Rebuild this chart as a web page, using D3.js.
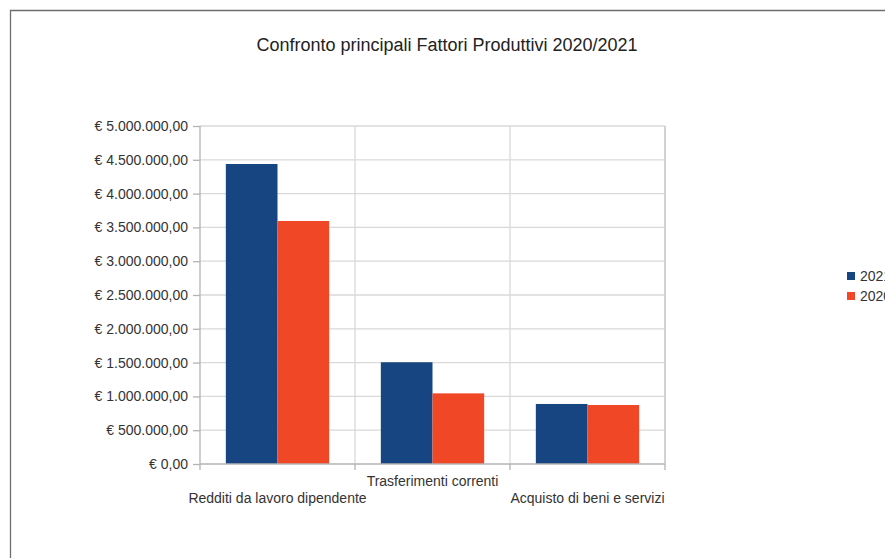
<!DOCTYPE html>
<html>
<head>
<meta charset="utf-8">
<script src="https://cdn.jsdelivr.net/npm/d3@7"></script>
<style>
  body { margin: 0; background: #fff; }
  svg { display: block; font-family: "Liberation Sans", Arial, sans-serif; }
  .grid line { stroke: #d9d9d9; stroke-width: 1.3; }
  .axis path, .axis line { stroke: #b3b3b3; stroke-width: 1.3; }
  .axis text { fill: #333; font-size: 14px; }
</style>
</head>
<body>
<svg width="885" height="558"></svg>
<script>
const categories = ["Redditi da lavoro dipendente", "Trasferimenti correnti", "Acquisto di beni e servizi"]
const series = ["2021", "2020"]
const values2021 = [4438000, 1505000, 888000]
const values2020 = [3595000, 1045000, 873000]
const yTicks = [0, 500000, 1000000, 1500000, 2000000, 2500000, 3000000, 3500000, 4000000, 4500000, 5000000]
const title = "Confronto principali Fattori Produttivi 2020/2021"

const svg = d3.select("svg"),
      margin = {top: 126, left: 200},
      width = 465,
      height = 338,
      g = svg.append("g").attr("transform", "translate(" + margin.left + "," + margin.top + ")")

const colors = d3.scaleOrdinal().domain(series).range(["#174581", "#f04826"])

const data = categories.map((c, i) => ({cat: c, values: [
  {key: "2021", value: values2021[i]},
  {key: "2020", value: values2020[i]}
]}))

const x0 = d3.scaleBand().domain(categories).range([0, width]),
      x1 = d3.scaleBand().domain(series).range([0, x0.bandwidth()]).paddingOuter(0.5),
      y = d3.scaleLinear().domain([0, 5000000]).range([height, 0])

const euro = v => "€ " + d3.format(",.2f")(v).replace(/,/g, "#").replace(".", ",").replace(/#/g, ".")

// outer frame
svg.append("path")
  .attr("d", "M10.5,558 V10.5 H885")
  .attr("fill", "none")
  .attr("stroke", "#6e6e6e")
  .attr("stroke-width", 1.3)

svg.append("text")
  .attr("x", 447)
  .attr("y", 51)
  .attr("text-anchor", "middle")
  .style("font-size", "18px")
  .style("fill", "#222")
  .text(title)

// horizontal grid
g.append("g")
  .attr("class", "grid")
  .selectAll("line")
  .data(yTicks.slice(1))
  .enter().append("line")
    .attr("x1", 0).attr("x2", width)
    .attr("y1", d => y(d)).attr("y2", d => y(d))

// vertical grid at category boundaries
const bounds = categories.map(c => x0(c)).concat([width])
g.append("g")
  .attr("class", "grid")
  .selectAll("line")
  .data(bounds.slice(1))
  .enter().append("line")
    .attr("x1", d => d).attr("x2", d => d)
    .attr("y1", 0).attr("y2", height)

const groups = g.selectAll(".cat")
  .data(data)
  .enter().append("g")
    .attr("class", "cat")
    .attr("transform", d => "translate(" + x0(d.cat) + ",0)")

groups.selectAll("rect")
  .data(d => d.values)
  .enter().append("rect")
    .attr("x", d => x1(d.key))
    .attr("width", x1.bandwidth())
    .attr("y", d => y(d.value))
    .attr("height", d => height - y(d.value))
    .attr("fill", d => colors(d.key))

// y axis
const yAxis = g.append("g")
  .attr("class", "axis")
  .call(d3.axisLeft(y).tickValues(yTicks).tickFormat(euro).tickSize(7).tickSizeOuter(0).tickPadding(5))
yAxis.select(".domain").attr("d", "M0," + height + "V0")

// x axis: ticks at category boundaries
const xAxis = g.append("g")
  .attr("class", "axis")
  .attr("transform", "translate(0," + height + ")")
xAxis.append("line").attr("x1", 0).attr("x2", width)
xAxis.selectAll(".tk")
  .data(bounds)
  .enter().append("line")
    .attr("class", "tk")
    .attr("x1", d => d).attr("x2", d => d)
    .attr("y1", 0).attr("y2", 6)
xAxis.selectAll("text")
  .data(categories)
  .enter().append("text")
    .attr("x", d => x0(d) + x0.bandwidth() / 2)
    .attr("y", (d, i) => i % 2 === 1 ? 22 : 39)
    .attr("text-anchor", "middle")
    .text(d => d)

// right edge of plot
g.append("line")
  .attr("x1", width).attr("x2", width)
  .attr("y1", 0).attr("y2", height)
  .style("stroke", "#c8c8c8").style("stroke-width", 1.3)

// legend (cut by the right edge, as in the original)
const legend = svg.append("g").attr("transform", "translate(847,272)")
const items = legend.selectAll("g")
  .data(series)
  .enter().append("g")
    .attr("transform", (d, i) => "translate(0," + i * 20 + ")")
items.append("rect")
  .attr("width", 8).attr("height", 8)
  .attr("fill", d => colors(d))
items.append("text")
  .attr("x", 13).attr("y", 9)
  .style("font-size", "14px")
  .style("fill", "#333")
  .text(d => d)
</script>
</body>
</html>
